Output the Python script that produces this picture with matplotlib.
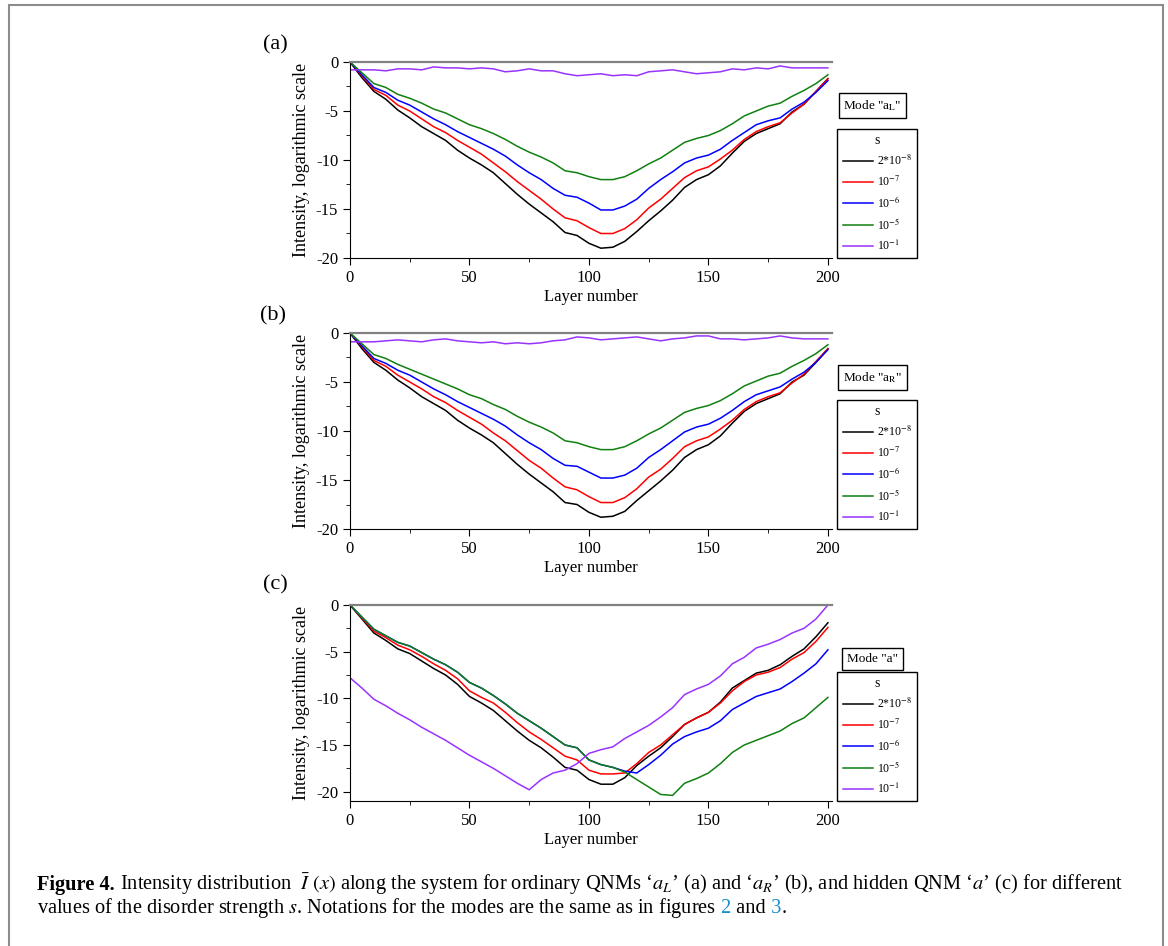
import numpy as np
import matplotlib
matplotlib.use("Agg")
import matplotlib.pyplot as plt
from matplotlib.patches import Rectangle
from matplotlib.ticker import MultipleLocator, FuncFormatter

plt.rcParams["font.family"] = ["Liberation Serif", "DejaVu Serif"]
plt.rcParams["mathtext.fontset"] = "stix"
plt.rcParams["axes.unicode_minus"] = False

# layer numbers (sampled every 5 layers)
layers = list(range(0, 201, 5))

series_labels = ["2*10$^{-8}$", "10$^{-7}$", "10$^{-6}$", "10$^{-5}$", "10$^{-1}$"]
series_colors = ["black", "#ff0000", "#0000ff", "#108010", "#9933ff"]

# (a) mode a_L
black_a = [0, -1.6, -3.0, -3.8, -4.9, -5.7, -6.6, -7.3, -8.0, -9.0, -9.8, -10.5, -11.3, -12.4, -13.5,
           -14.5, -15.4, -16.3, -17.4, -17.7, -18.5, -19.0, -18.9, -18.3, -17.3, -16.2, -15.2, -14.1,
           -12.8, -12.0, -11.5, -10.6, -9.3, -8.1, -7.3, -6.8, -6.3, -5.1, -4.3, -3.0, -1.7]
red_a = [0, -1.4, -2.8, -3.4, -4.4, -5.0, -5.8, -6.6, -7.2, -8.0, -8.7, -9.4, -10.3, -11.2, -12.2,
         -13.1, -14.0, -15.0, -15.9, -16.2, -16.9, -17.5, -17.5, -17.0, -16.1, -14.9, -14.0, -12.9,
         -11.8, -11.1, -10.7, -9.9, -9.0, -7.9, -7.1, -6.6, -6.2, -5.2, -4.3, -3.0, -1.7]
blue_a = [0, -1.3, -2.6, -3.1, -3.9, -4.4, -5.1, -5.8, -6.4, -7.1, -7.7, -8.3, -8.9, -9.6, -10.5,
          -11.3, -12.0, -12.9, -13.6, -13.8, -14.4, -15.1, -15.1, -14.7, -14.0, -12.9, -12.0, -11.2,
          -10.3, -9.8, -9.5, -8.9, -8.0, -7.2, -6.4, -6.0, -5.7, -4.8, -4.1, -3.1, -1.9]
green_a = [0, -1.1, -2.2, -2.6, -3.3, -3.7, -4.2, -4.8, -5.2, -5.8, -6.4, -6.8, -7.3, -7.9, -8.6,
           -9.2, -9.7, -10.3, -11.1, -11.3, -11.7, -12.0, -12.0, -11.7, -11.1, -10.4, -9.8, -9.0,
           -8.2, -7.8, -7.5, -7.0, -6.3, -5.5, -5.0, -4.5, -4.2, -3.5, -2.9, -2.2, -1.3]
purple_a = [-0.8, -0.8, -0.8, -0.9, -0.7, -0.7, -0.8, -0.5, -0.6, -0.6, -0.7, -0.6, -0.7, -1.0, -0.9,
            -0.7, -0.9, -0.9, -1.2, -1.4, -1.3, -1.2, -1.4, -1.3, -1.4, -1.0, -0.9, -0.8, -1.0,
            -1.2, -1.1, -1.0, -0.7, -0.8, -0.6, -0.7, -0.4, -0.6, -0.6, -0.6, -0.6]

# (b) mode a_R
black_b = [0, -1.6, -3.0, -3.8, -4.8, -5.6, -6.5, -7.2, -7.9, -8.9, -9.7, -10.4, -11.2, -12.3, -13.4,
           -14.4, -15.3, -16.2, -17.3, -17.5, -18.3, -18.8, -18.7, -18.2, -17.1, -16.1, -15.1, -14.0,
           -12.7, -11.9, -11.4, -10.5, -9.2, -8.0, -7.2, -6.7, -6.2, -5.0, -4.3, -3.0, -1.6]
red_b = [0, -1.4, -2.8, -3.4, -4.3, -5.0, -5.7, -6.5, -7.1, -7.9, -8.6, -9.3, -10.2, -11.0, -12.0,
         -13.0, -13.8, -14.8, -15.7, -16.0, -16.7, -17.3, -17.3, -16.8, -15.9, -14.7, -13.9, -12.8,
         -11.6, -11.0, -10.6, -9.8, -8.9, -7.8, -7.0, -6.5, -6.1, -5.1, -4.2, -2.9, -1.6]
blue_b = [0, -1.3, -2.6, -3.1, -3.8, -4.3, -5.0, -5.7, -6.3, -7.0, -7.6, -8.2, -8.8, -9.5, -10.4,
          -11.2, -11.9, -12.8, -13.5, -13.6, -14.2, -14.8, -14.8, -14.5, -13.8, -12.7, -11.9, -11.0,
          -10.1, -9.6, -9.3, -8.7, -7.9, -7.0, -6.3, -5.9, -5.5, -4.7, -4.0, -3.0, -1.7]
green_b = [0, -1.1, -2.2, -2.6, -3.2, -3.7, -4.2, -4.7, -5.2, -5.7, -6.3, -6.7, -7.3, -7.8, -8.5,
           -9.1, -9.6, -10.2, -11.0, -11.2, -11.6, -11.9, -11.9, -11.6, -11.0, -10.3, -9.7, -8.9,
           -8.1, -7.7, -7.4, -6.9, -6.2, -5.4, -4.9, -4.4, -4.1, -3.4, -2.8, -2.1, -1.2]
purple_b = [-0.9, -0.9, -0.9, -0.8, -0.7, -0.8, -0.9, -0.7, -0.6, -0.8, -0.9, -1.0, -0.9, -1.1, -1.0,
            -1.1, -1.0, -0.8, -0.7, -0.4, -0.5, -0.7, -0.6, -0.5, -0.4, -0.6, -0.8, -0.6, -0.5,
            -0.3, -0.3, -0.6, -0.6, -0.7, -0.6, -0.5, -0.3, -0.5, -0.6, -0.6, -0.6]

# (c) hidden mode a
black_c = [0, -1.5, -3.0, -3.8, -4.7, -5.2, -6.0, -6.8, -7.5, -8.5, -9.8, -10.5, -11.3, -12.4, -13.5,
           -14.5, -15.3, -16.3, -17.4, -17.7, -18.7, -19.2, -19.2, -18.5, -17.2, -16.2, -15.3, -14.1,
           -12.8, -12.1, -11.5, -10.4, -8.9, -8.1, -7.3, -7.0, -6.4, -5.5, -4.7, -3.4, -1.9]
red_c = [0, -1.4, -2.8, -3.5, -4.3, -4.8, -5.5, -6.3, -7.0, -7.9, -9.2, -9.9, -10.5, -11.5, -12.6,
         -13.6, -14.4, -15.3, -16.2, -16.6, -17.7, -18.1, -18.1, -18.0, -17.0, -15.8, -15.0, -13.9,
         -12.8, -12.1, -11.5, -10.5, -9.2, -8.2, -7.5, -7.2, -6.7, -5.8, -5.1, -3.9, -2.4]
blue_c = [0, -1.3, -2.6, -3.3, -4.0, -4.4, -5.1, -5.8, -6.4, -7.2, -8.3, -8.9, -9.7, -10.6, -11.6,
          -12.4, -13.2, -14.1, -15.0, -15.3, -16.6, -17.1, -17.4, -17.8, -18.0, -17.1, -16.1, -14.9,
          -14.1, -13.6, -13.2, -12.4, -11.2, -10.5, -9.8, -9.4, -9.0, -8.2, -7.3, -6.3, -4.8]
green_c = [0, -1.3, -2.6, -3.3, -4.0, -4.4, -5.1, -5.8, -6.4, -7.2, -8.3, -8.9, -9.7, -10.6, -11.6,
           -12.4, -13.2, -14.1, -15.0, -15.3, -16.6, -17.1, -17.4, -17.9, -18.7, -19.5, -20.3, -20.4,
           -19.1, -18.6, -18.0, -17.0, -15.8, -15.0, -14.5, -14.0, -13.5, -12.7, -12.1, -11.0, -9.9]
purple_c = [-7.8, -8.9, -10.1, -10.8, -11.6, -12.3, -13.1, -13.8, -14.5, -15.3, -16.1, -16.8, -17.5,
            -18.3, -19.1, -19.8, -18.7, -18.0, -17.7, -17.0, -15.9, -15.5, -15.2, -14.3, -13.6, -12.9,
            -12.0, -11.0, -9.6, -9.0, -8.5, -7.6, -6.3, -5.6, -4.6, -4.2, -3.7, -3.0, -2.5, -1.5, 0.0]

panels = [
    ("(a)", 'Mode "a$_{\\rm L}$"', [black_a, red_a, blue_a, green_a, purple_a], -20),
    ("(b)", 'Mode "a$_{\\rm R}$"', [black_b, red_b, blue_b, green_b, purple_b], -20),
    ("(c)", 'Mode "a"', [black_c, red_c, blue_c, green_c, purple_c], -21),
]

W, H = 1168, 946
fig = plt.figure(figsize=(W / 100, H / 100), dpi=100)

# frame around the whole figure
fig.patches.append(Rectangle((9 / W, -0.01), (1163 - 9) / W, 1.01 - 5 / H,
                             transform=fig.transFigure, fill=False,
                             edgecolor="#8c8c8c", linewidth=1.5))

# axes boxes in pixels: (top of y=0, bottom of axes)
ax_rows = [(62, 258), (333, 529), (605, 801)]
label_pos = [(275, 45), (273, 316), (275, 585)]
mode_y = [0.778, 0.773, 0.724]

fmt = FuncFormatter(lambda v, p: "%g" % v)

for (tag, mode, data, ybot), (top, bot), (lx, ly), my in zip(panels, ax_rows, label_pos, mode_y):
    ax = fig.add_axes([350 / W, 1 - bot / H, 481.5 / W, (bot - top) / H])
    for vals, c, lab in zip(data, series_colors, series_labels):
        ax.plot(layers, vals, color=c, lw=1.1, label=lab)
    ax.set_xlim(0, 201.5)
    ax.set_ylim(ybot, 0)
    ax.spines["right"].set_visible(False)
    ax.spines["top"].set_color("#808080")
    ax.spines["top"].set_linewidth(1.6)
    ax.xaxis.set_major_locator(MultipleLocator(50))
    ax.xaxis.set_minor_locator(MultipleLocator(25))
    ax.yaxis.set_major_locator(MultipleLocator(5))
    ax.yaxis.set_minor_locator(MultipleLocator(2.5))
    ax.yaxis.set_major_formatter(fmt)
    ax.tick_params(which="major", direction="out", length=5, labelsize=12, top=False, right=False)
    ax.tick_params(which="minor", direction="out", length=3, top=False, right=False)
    ax.set_xlabel("Layer number", fontsize=12, labelpad=2)
    ax.set_ylabel("Intensity, logarithmic scale", fontsize=13, labelpad=4)

    leg = ax.legend(loc="lower left", bbox_to_anchor=(1.012, 0.0), borderaxespad=0,
                    title="s", fontsize=8.5, title_fontsize=10, fancybox=False,
                    edgecolor="black", framealpha=1, handlelength=2.6, handletextpad=0.3,
                    labelspacing=0.55, borderpad=0.45)
    leg.get_frame().set_linewidth(1.0)

    ax.text(1.085, my, mode, transform=ax.transAxes, ha="center", va="center", fontsize=9.5,
            bbox=dict(boxstyle="square,pad=0.35", fc="white", ec="black", lw=1.0))

    fig.text(lx / W, 1 - ly / H, tag, ha="center", va="center", fontsize=16)

# caption, laid out piece by piece on the baseline
cs = 14.7
link = "#1a8fc9"
line1 = [("Figure 4.", dict(fontweight="bold")),
         (" Intensity distribution  $\\bar{I}\\ (x)$ along the system for ordinary QNMs "
          "\u2018$a_L$\u2019 (a) and \u2018$a_R$\u2019 (b), and hidden QNM \u2018$a$\u2019 (c) for different", {})]
line2 = [("values of the disorder strength $s$. Notations for the modes are the same as in figures", {}),
         (" 2", dict(color=link)),
         (" and", {}),
         (" 3", dict(color=link)),
         (".", {})]

renderer = fig.canvas.get_renderer()
for pieces, base in [(line1, 890), (line2, 913)]:
    x = 37
    for s, kw in pieces:
        t = fig.text(x / W, 1 - base / H, s, fontsize=cs, va="baseline", **kw)
        x = t.get_window_extent(renderer).x1

fig.savefig("out.png", dpi=100)
